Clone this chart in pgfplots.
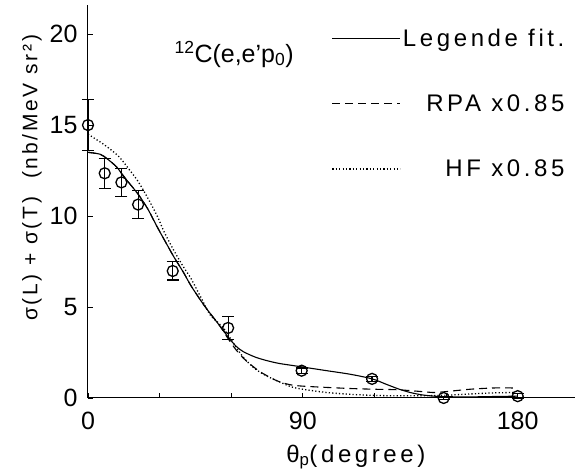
\documentclass[border=0pt]{standalone}
\usepackage{fontspec}
\setmainfont{Liberation Sans}
\newfontfamily\spaced[LetterSpace=15]{Liberation Sans}
\newfontfamily\yspaced[LetterSpace=13]{Liberation Sans}
\usepackage{pgfplots}
\pgfplotsset{compat=1.18}

\pgfplotstableread{
x y e
0 15.0 1.4
7 12.35 0.82
14 11.85 0.78
21 10.63 0.76
35.5 6.98 0.5
58.7 3.85 0.62
89.5 1.5 0.15
119 1.05 0.15
149 0.0 0.1
180 0.1 0.15
}\datapoints

\pgfplotstableread{
x y
0 13.5
5 13.4
8 13.15
12 12.7
14 12.35
17 11.85
21 11.2
25 10.4
29 9.4
33 8.45
36 7.75
40 6.9
43 6.2
47 5.4
50 4.85
55 4.0
59 3.3
62 2.85
65 2.55
70 2.25
75 2.05
80 1.9
85 1.8
90 1.7
100 1.5
110 1.3
119 1.05
125 0.75
130 0.5
135 0.3
140 0.17
145 0.1
150 0.07
160 0.06
170 0.08
180 0.1
}\fit

\pgfplotstableread{
x y
0 13.5
5 13.4
8 13.15
12 12.7
14 12.35
17 11.85
21 11.2
25 10.4
29 9.4
33 8.45
36 7.75
40 6.9
43 6.2
47 5.4
50 4.85
55 4.0
59 3.2
62 2.65
65 2.2
68 1.85
72 1.45
76 1.15
80 0.9
85 0.72
90 0.65
100 0.58
110 0.52
120 0.48
130 0.45
140 0.35
145 0.3
150 0.35
160 0.48
170 0.55
178 0.55
}\rpa

\pgfplotstableread{
x y
0 14.5
3 14.25
7 13.9
12.7 13.3
17 12.6
21 11.9
25 11.0
29 10.0
32 9.1
36 8.1
40 7.2
43 6.6
47 5.6
51 4.6
54 4.2
57 3.8
60 3.2
63 2.6
66 2.1
70 1.6
75 1.2
80 0.9
85 0.62
90 0.48
100 0.3
110 0.2
120 0.14
130 0.12
140 0.12
150 0.15
160 0.22
170 0.28
178 0.3
}\hf

\begin{document}
\begin{tikzpicture}
\begin{axis}[
  scale only axis, width=487pt, height=393pt,
  xmin=0, xmax=204, ymin=0, ymax=21.6,
  axis x line=bottom, axis y line=left,
  axis line style={-, line width=1pt},
  xtick={0,30,60,90,120,150,180}, xticklabels={0,,,90,,,180},
  ytick={0,5,10,15,20}, yticklabels={0,5,10,15,20},
  tick align=inside, major tick length=5pt,
  tick style={line width=0.8pt, black},
  /pgf/number format/assume math mode=true,
  tick label style={font=\fontsize{25}{28}\selectfont},
  xticklabel style={yshift=-11pt},
  yticklabel style={xshift=-7pt},
  xlabel={θ\textsubscript{p}(degree)},
  xlabel style={at={(axis description cs:0.55,-0.15)}, anchor=center, font=\spaced\fontsize{24}{26}\selectfont},
  ylabel={σ(L) + σ(T)\hspace{18pt}(nb/MeV sr²)},
  ylabel style={at={(axis description cs:-0.115,0.56)}, anchor=center, font=\yspaced\fontsize{21}{24}\selectfont},
  clip=false,
  legend style={at={(axis description cs:0.50,0.945)}, anchor=north west, draw=none, fill=none,
     font=\spaced\fontsize{24}{26}\selectfont, row sep=43pt, inner sep=0pt,
     nodes={inner sep=2pt}},
  legend cell align=right,
  legend image code/.code={\draw[#1] (0pt,0pt) -- (68pt,0pt);},
]
\path (rel axis cs:-0.1807,-0.196) rectangle (rel axis cs:1.0144,1.0127);
\addplot[black, line width=1.1pt, smooth, tension=0.5] table {\fit};
\addlegendentry{Legende fit.}
\addplot[black, line width=1.1pt, dash pattern=on 8pt off 5pt, smooth, tension=0.5] table {\rpa};
\addlegendentry{RPA x0.85}
\addplot[black, line width=1.3pt, dash pattern=on 1.2pt off 2.2pt, smooth, tension=0.5] table {\hf};
\addlegendentry{HF x0.85}
\addplot[forget plot, black, only marks, mark=o, mark size=5.5pt, mark options={line width=1.3pt},
  error bars/.cd, y dir=both, y explicit,
  error mark options={rotate=90, mark size=6pt, line width=1.2pt, black},
  error bar style={line width=1.2pt, black}]
  table[x=x, y=y, y error=e] {\datapoints};
\node[font=\fontsize{25}{28}\selectfont] at (rel axis cs:0.30,0.875) {\textsuperscript{12}C(e,e'p\textsubscript{0})};
\end{axis}
\end{tikzpicture}
\end{document}
